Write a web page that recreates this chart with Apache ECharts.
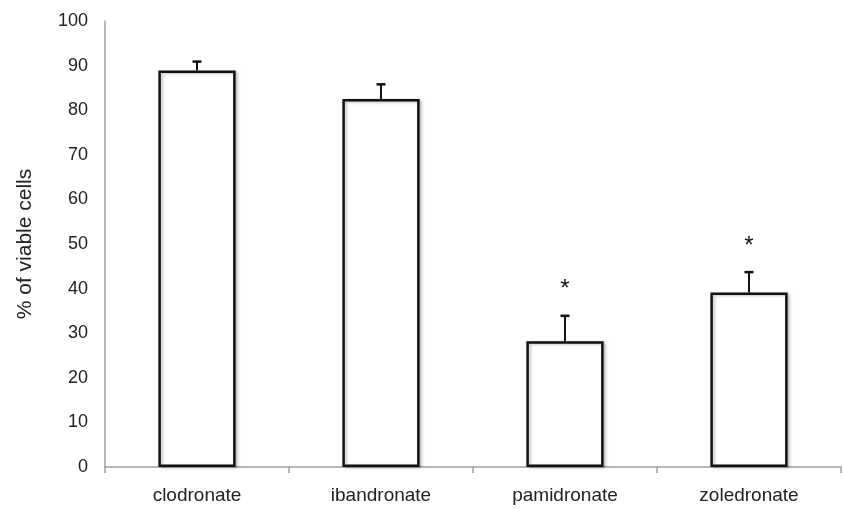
<!DOCTYPE html>
<html>
<head>
<meta charset="utf-8">
<script src="https://cdn.jsdelivr.net/npm/echarts@6/dist/echarts.min.js"></script>
<style>
  html, body { margin: 0; padding: 0; background: #fff; }
  #chart { width: 843px; height: 509px; }
</style>
</head>
<body>
<div id="chart"></div>
<script>
// data
const categories = ['clodronate', 'ibandronate', 'pamidronate', 'zoledronate'];
const means = [88.9, 82.5, 28.2, 39.1];
const errors = [2.0, 3.3, 5.7, 4.6];
const significant = [false, false, true, true];
const yTicks = [0, 10, 20, 30, 40, 50, 60, 70, 80, 90, 100];

const font = 'Liberation Sans, Arial, Helvetica, sans-serif';

const chart = echarts.init(document.getElementById('chart'));

// error bar (upward only) + asterisk for significant groups
const errData = categories.map((c, i) => [i, means[i], means[i] + errors[i], significant[i] ? 1 : 0]);

function renderErr(params, api) {
    const x = api.value(0);
    const low = api.coord([x, api.value(1)]);
    const high = api.coord([x, api.value(2)]);
    const children = [
        {
            type: 'line',
            shape: { x1: low[0], y1: low[1], x2: high[0], y2: high[1] },
            style: { stroke: '#111', lineWidth: 2 }
        },
        {
            type: 'line',
            shape: { x1: high[0] - 4.5, y1: high[1], x2: high[0] + 4.5, y2: high[1] },
            style: { stroke: '#111', lineWidth: 2.5 }
        }
    ];
    if (api.value(3)) {
        children.push({
            type: 'text',
            x: high[0],
            y: high[1] - 26,
            style: {
                text: '*',
                fontSize: 24,
                fontFamily: font,
                fill: '#111',
                align: 'center',
                verticalAlign: 'middle'
            }
        });
    }
    return { type: 'group', children: children };
}

const option = {
    animation: false,
    backgroundColor: '#fff',
    grid: {
        left: 105,
        right: 2,
        top: 21,
        bottom: 42
    },
    xAxis: {
        type: 'category',
        data: categories,
        axisLine: { lineStyle: { color: '#a0a0a0', width: 1.5 } },
        axisTick: { show: true, length: 6, lineStyle: { color: '#a0a0a0', width: 1.5 } },
        axisLabel: { color: '#222', fontSize: 19, fontFamily: font, margin: 19 }
    },
    yAxis: {
        type: 'value',
        min: 0,
        max: 100,
        interval: 10,
        name: '% of viable cells',
        nameLocation: 'middle',
        nameGap: 69,
        nameTextStyle: { color: '#222', fontSize: 21, fontFamily: font },
        axisLine: { show: true, lineStyle: { color: '#a0a0a0', width: 1.5 } },
        axisTick: { show: false },
        splitLine: { show: false },
        axisLabel: {
            color: '#222',
            fontSize: 18,
            fontFamily: font,
            margin: 17,
            formatter: v => yTicks.includes(v) ? String(v) : ''
        }
    },
    series: [
        {
            type: 'bar',
            data: means,
            barWidth: '42%',
            itemStyle: {
                color: '#fff',
                borderColor: '#111',
                borderWidth: 2.5,
                shadowColor: 'rgba(0,0,0,0.25)',
                shadowBlur: 3,
                shadowOffsetX: 2,
                shadowOffsetY: 1
            },
            z: 2
        },
        {
            type: 'custom',
            data: errData,
            renderItem: renderErr,
            z: 3
        }
    ]
};

chart.setOption(option);
</script>
</body>
</html>
